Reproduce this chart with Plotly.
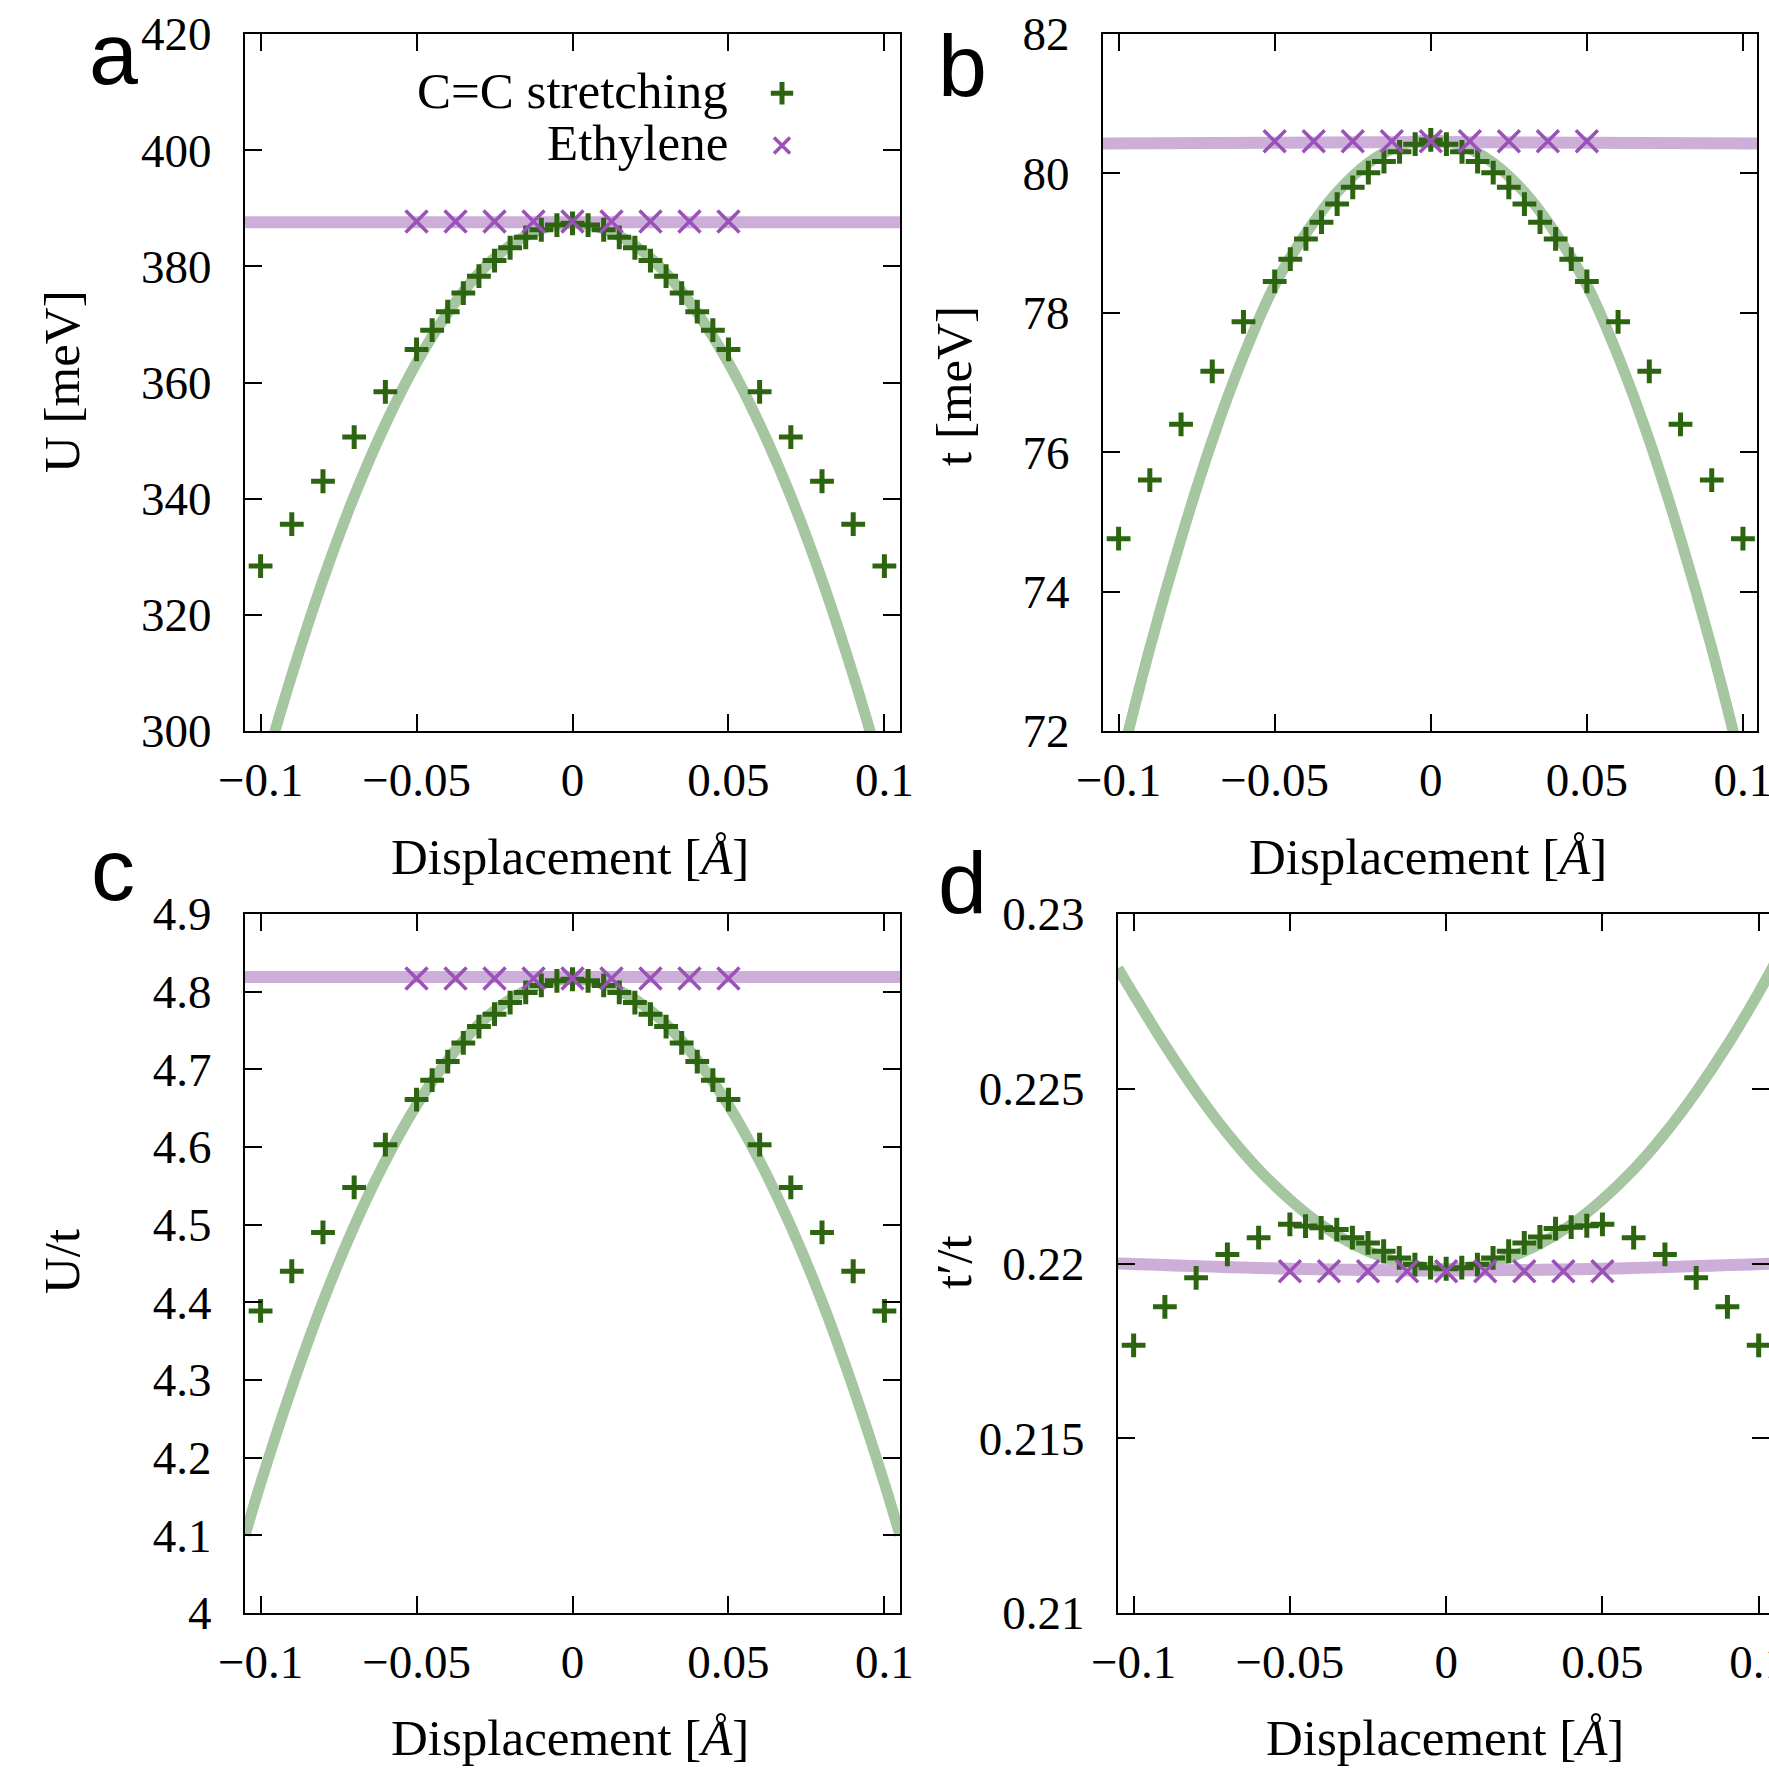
import plotly.graph_objects as go

# ---------------- data ----------------
disp = [-0.1, -0.09, -0.08, -0.07, -0.06, -0.05, -0.045, -0.04, -0.035, -0.03, -0.025,
        -0.02, -0.015, -0.01, -0.005, 0.0, 0.005, 0.01, 0.015, 0.02, 0.025, 0.03,
        0.035, 0.04, 0.045, 0.05, 0.06, 0.07, 0.08, 0.09, 0.1]

U_cc = [328.4, 335.6, 343.0, 350.6, 358.4, 365.7, 369.0, 372.2, 375.4, 378.3, 381.0,
        383.2, 385.0, 386.3, 387.1, 387.4, 387.1, 386.3, 385.0, 383.2, 381.0, 378.3,
        375.4, 372.2, 369.0, 365.7, 358.4, 350.6, 343.0, 335.6, 328.4]
t_cc = [74.76, 75.60, 76.40, 77.16, 77.87, 78.45, 78.77, 79.06, 79.30, 79.56, 79.80,
        80.01, 80.17, 80.31, 80.42, 80.48, 80.42, 80.31, 80.17, 80.01, 79.80, 79.56,
        79.30, 79.06, 78.77, 78.45, 77.87, 77.16, 76.40, 75.60, 74.76]
Ut_cc = [4.389, 4.440, 4.490, 4.548, 4.603, 4.661, 4.686, 4.710, 4.734, 4.755, 4.771,
         4.786, 4.799, 4.808, 4.814, 4.816, 4.814, 4.808, 4.799, 4.786, 4.771, 4.755,
         4.734, 4.710, 4.686, 4.661, 4.603, 4.548, 4.490, 4.440, 4.389]
tpt_cc = [0.21766, 0.21876, 0.21959, 0.22026, 0.22074, 0.22112, 0.22107, 0.22102,
          0.22097, 0.22074, 0.22059, 0.22035, 0.22016, 0.21997, 0.21988, 0.21985,
          0.21988, 0.21997, 0.22016, 0.22035, 0.22059, 0.22076, 0.22100, 0.22104,
          0.22108, 0.22112, 0.22074, 0.22026, 0.21959, 0.21876, 0.21766]

disp_eth = [-0.05, -0.0375, -0.025, -0.0125, 0.0, 0.0125, 0.025, 0.0375, 0.05]
U_eth = [387.7, 387.7, 387.7, 387.7, 387.7, 387.7, 387.7, 387.7, 387.7]
t_eth = [80.46, 80.46, 80.46, 80.46, 80.46, 80.46, 80.46, 80.46, 80.46]
Ut_eth = [4.817, 4.817, 4.817, 4.817, 4.817, 4.817, 4.817, 4.817, 4.817]
tpt_eth = [0.21978, 0.21978, 0.21978, 0.21978, 0.21978, 0.21978, 0.21978, 0.21978, 0.21978]

# fitted curves
disp_fit = [-0.105, -0.1, -0.09, -0.08, -0.07, -0.06, -0.05, -0.04, -0.03, -0.02, -0.01, 0.0,
            0.01, 0.02, 0.03, 0.04, 0.05, 0.06, 0.07, 0.08, 0.09, 0.1, 0.105]
U_fit = [281.6, 291.4, 309.6, 326.0, 340.4, 352.8, 363.4, 372.0, 378.8, 383.6, 386.4, 387.4,
         386.4, 383.6, 378.8, 372.0, 363.4, 352.8, 340.4, 326.0, 309.6, 291.4, 281.6]
t_fit = [70.50, 71.43, 73.19, 74.76, 76.17, 77.38, 78.40, 79.14, 79.73, 80.15, 80.40, 80.48,
         80.40, 80.15, 79.73, 79.14, 78.40, 77.38, 76.17, 74.76, 73.19, 71.43, 70.50]
Ut_fit = [4.100, 4.167, 4.290, 4.401, 4.498, 4.582, 4.654, 4.712, 4.758, 4.790, 4.810, 4.816,
          4.810, 4.790, 4.758, 4.712, 4.654, 4.582, 4.498, 4.401, 4.290, 4.167, 4.100]
tpt_fit = [0.22845, 0.22770, 0.22625, 0.22491, 0.22372, 0.22269, 0.22183, 0.22111, 0.22056,
           0.22017, 0.21993, 0.21985, 0.21993, 0.22017, 0.22056, 0.22111, 0.22183, 0.22269,
           0.22372, 0.22491, 0.22625, 0.22775, 0.22856]

disp_efit = [-0.105, -0.05, 0.0, 0.05, 0.105]
U_efit = [387.6, 387.6, 387.6, 387.6, 387.6]
t_efit = [80.43, 80.44, 80.45, 80.44, 80.43]
Ut_efit = [4.819, 4.819, 4.819, 4.819, 4.819]
tpt_efit = [0.22000, 0.21985, 0.21980, 0.21985, 0.22000]

x_tickvals = [-0.1, -0.05, 0, 0.05, 0.1]
x_ticktext = ["\u22120.1", "\u22120.05", "0", "0.05", "0.1"]
yticks_a = [300, 320, 340, 360, 380, 400, 420]
yticks_b = [72, 74, 76, 78, 80, 82]
yticks_c = [4.0, 4.1, 4.2, 4.3, 4.4, 4.5, 4.6, 4.7, 4.8, 4.9]
yticks_c_text = ["4", "4.1", "4.2", "4.3", "4.4", "4.5", "4.6", "4.7", "4.8", "4.9"]
yticks_d = [0.21, 0.215, 0.22, 0.225, 0.23]
yticks_d_text = ["0.21", "0.215", "0.22", "0.225", "0.23"]

legend_names = ["C=C stretching", "Ethylene"]
ylabels = ["U [meV]", "t [meV]", "U/t", "t\u2032/t"]
xlabel = "Displacement [<i>\u00c5</i>]"

# ---------------- styling ----------------
W, H = 1769, 1770
GREEN_M = "#2c6410"
PURPLE_M = "#9a52b8"
GREEN_L = "#a5c6a0"
PURPLE_L = "#cdaed9"
SERIF = "Liberation Serif"

panels = [
    dict(xa="x", ya="y", ydata=U_cc, yeth=U_eth, yfit=U_fit, yefit=U_efit),
    dict(xa="x2", ya="y2", ydata=t_cc, yeth=t_eth, yfit=t_fit, yefit=t_efit),
    dict(xa="x3", ya="y3", ydata=Ut_cc, yeth=Ut_eth, yfit=Ut_fit, yefit=Ut_efit),
    dict(xa="x4", ya="y4", ydata=tpt_cc, yeth=tpt_eth, yfit=tpt_fit, yefit=tpt_efit),
]

fig = go.Figure()
for i, p in enumerate(panels):
    fig.add_trace(go.Scatter(x=disp_fit, y=p["yfit"], mode="lines", line_shape="spline",
                             line=dict(color=GREEN_L, width=11), xaxis=p["xa"], yaxis=p["ya"],
                             showlegend=False, hoverinfo="skip"))
    fig.add_trace(go.Scatter(x=disp_efit, y=p["yefit"], mode="lines", line_shape="spline",
                             line=dict(color=PURPLE_L, width=12), xaxis=p["xa"], yaxis=p["ya"],
                             showlegend=False, hoverinfo="skip"))
    fig.add_trace(go.Scatter(x=disp, y=p["ydata"], mode="markers", name=" ",
                             marker=dict(symbol="cross-thin", size=17,
                                         line=dict(color=GREEN_M, width=5)),
                             xaxis=p["xa"], yaxis=p["ya"], showlegend=(i == 0)))
    fig.add_trace(go.Scatter(x=disp_eth, y=p["yeth"], mode="markers", name=" ",
                             marker=dict(symbol="x-thin", size=22,
                                         line=dict(color=PURPLE_M, width=3.5)),
                             xaxis=p["xa"], yaxis=p["ya"], showlegend=(i == 0)))

def px(x):
    return x / W

def py(y):
    return 1 - y / H

axis_common = dict(showline=True, linecolor="black", linewidth=2, mirror="allticks",
                   ticks="inside", ticklen=17, tickwidth=2, tickcolor="black",
                   showgrid=False, zeroline=False, automargin=False,
                   ticklabeloverflow="allow",
                   tickfont=dict(family=SERIF, size=47, color="black"))

xdom_left = [px(245), px(900)]
xdom_b = [px(1103), px(1757)]
xdom_d = [px(1118), 1.0]
ydom_top = [py(731), py(34)]
ydom_bot = [py(1613), py(914)]

def xax(dom, rng):
    return dict(axis_common, domain=dom, range=rng, tickvals=x_tickvals, ticktext=x_ticktext,
                ticklabelstandoff=7)

def yax(dom, rng, anchor, tv, tt=None):
    d = dict(axis_common, domain=dom, range=rng, anchor=anchor, tickvals=tv, ticklabelstandoff=22)
    if tt is not None:
        d["ticktext"] = tt
    return d

fig.update_layout(
    width=W, height=H, margin=dict(l=0, r=0, t=0, b=0, autoexpand=False),
    paper_bgcolor="white", plot_bgcolor="white",
    font=dict(family=SERIF, color="black"),
    xaxis=dict(xax(xdom_left, [-0.105, 0.105]), anchor="y"),
    yaxis=yax(ydom_top, [300, 420], "x", yticks_a),
    xaxis2=dict(xax(xdom_b, [-0.105, 0.1045]), anchor="y2"),
    yaxis2=yax(ydom_top, [72, 82], "x2", yticks_b),
    xaxis3=dict(xax(xdom_left, [-0.105, 0.105]), anchor="y3"),
    yaxis3=yax(ydom_bot, [4.0, 4.9], "x3", yticks_c, yticks_c_text),
    xaxis4=dict(xax(xdom_d, [-0.105, 0.1033]), anchor="y4"),
    yaxis4=yax(ydom_bot, [0.21, 0.23], "x4", yticks_d, yticks_d_text),
    legend=dict(x=px(762), y=py(62), xanchor="left", yanchor="top",
                bgcolor="rgba(0,0,0,0)", font=dict(size=38), itemsizing="trace"),
)

ann = []
# panel letters
for letter, (lx, ly) in zip(["a", "b", "c", "d"], [(113, 53), (962, 65), (113, 869), (962, 883)]):
    ann.append(dict(text=letter, x=px(lx), y=py(ly), xref="paper", yref="paper",
                    xanchor="center", yanchor="middle", showarrow=False,
                    font=dict(family="Liberation Sans", size=88, color="black")))
# x titles
for (tx, ty) in [(570, 857), (1428, 857), (570, 1738), (1445, 1738)]:
    ann.append(dict(text=xlabel, x=px(tx), y=py(ty), xref="paper", yref="paper",
                    xanchor="center", yanchor="middle", showarrow=False,
                    font=dict(family=SERIF, size=51, color="black")))
# y titles
for lab, (tx, ty) in zip(ylabels, [(62, 382), (954, 386), (62, 1262), (954, 1262)]):
    ann.append(dict(text=lab, x=px(tx), y=py(ty), xref="paper", yref="paper",
                    xanchor="center", yanchor="middle", showarrow=False, textangle=-90,
                    font=dict(family=SERIF, size=51, color="black")))
# legend labels
for lab, ty in zip(legend_names, [91, 143]):
    ann.append(dict(text=lab, x=px(730), y=py(ty), xref="paper", yref="paper",
                    xanchor="right", yanchor="middle", showarrow=False,
                    font=dict(family=SERIF, size=51, color="black")))
fig.update_layout(annotations=ann)

fig.write_html("out.html")
